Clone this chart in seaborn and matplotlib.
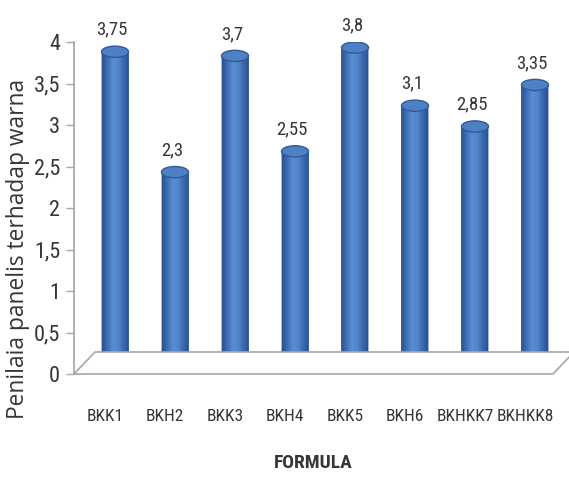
import numpy as np
import matplotlib
matplotlib.use("Agg")
import matplotlib.pyplot as plt
import matplotlib.transforms as mtransforms
from matplotlib import font_manager as fm
from matplotlib.colors import LinearSegmentedColormap
from matplotlib.patches import Ellipse, Polygon, PathPatch
from matplotlib.path import Path
from matplotlib.ticker import FuncFormatter, MultipleLocator
import seaborn as sns

# Panel scores for colour, per formula
formula = ["BKK1", "BKH2", "BKK3", "BKH4", "BKK5", "BKH6", "BKHKK7", "BKHKK8"]
scores = [3.75, 2.3, 3.7, 2.55, 3.8, 3.1, 2.85, 3.35]


def narrow_font():
    """Return font kwargs for a condensed face if one is installed."""
    for fam in ["Liberation Sans Narrow", "Roboto Condensed", "Open Sans Condensed",
                "Noto Sans Condensed", "DejaVu Sans Condensed"]:
        try:
            fm.findfont(fm.FontProperties(family=fam), fallback_to_default=False)
            return {"family": fam}, 1.0
        except ValueError:
            pass
    for fam in ["Noto Sans", "Open Sans", "DejaVu Sans"]:
        try:
            path = fm.findfont(fm.FontProperties(family=fam, stretch="condensed"),
                               fallback_to_default=False)
        except ValueError:
            continue
        if "ondensed" in path or "arrow" in path:
            return {"family": fam, "stretch": "condensed"}, 1.0
    return {"family": "Roboto"}, 0.82


NARROW, SCALE = narrow_font()

sns.set_theme(style="white")
plt.rcParams["font.family"] = [NARROW["family"], "DejaVu Sans"]
TEXT = "#363636"
GRID = "#a6a6a6"

fig = plt.figure(figsize=(5.69, 4.80), dpi=100)
W, H = 569, 480
ax = fig.add_axes([74 / W, 106 / H, (553 - 74) / W, (374 - 42) / H])

sns.barplot(x=formula, y=scores, color="#4a7bc0", width=0.45, ax=ax,
            saturation=1, zorder=3)

ax.set_xlim(-0.517, 7.467)
ax.set_ylim(0, 4)


# depth offsets for the pseudo-3D look (bars sit mid-floor, back edge behind)
def shift(px, py):
    return mtransforms.ScaledTranslation(px / 100, py / 100, fig.dpi_scale_trans)


bar_tr = ax.transData + shift(10, 11)
back_tr = ax.transData + shift(21, 22)

# floor
x0, x1 = ax.get_xlim()
front = [(x0, 0), (x1, 0)]
fl_front = ax.transData.transform(front)
fl_back = back_tr.transform(front)
floor_pts = np.vstack([fl_front, fl_back[::-1]])
floor = Polygon(floor_pts, closed=True, transform=None, facecolor="white",
                edgecolor=GRID, lw=1.2, zorder=1, clip_on=False)
fig.patches.append(floor)
floor.set_figure(fig)

cyl = LinearSegmentedColormap.from_list(
    "cyl", ["#2a5293", "#3f6fb3", "#5a8cd2", "#5386cc", "#3c6aae", "#2a5292"])
grad = np.linspace(0, 1, 64).reshape(1, -1)

ell_h = 0.135
for p, v in zip(ax.patches, scores):
    bx, bw, bh = p.get_x(), p.get_width(), p.get_height()
    cx = bx + bw / 2
    p.set_transform(bar_tr)
    p.set_edgecolor("none")
    # body outline: straight sides plus a rounded bottom
    t = np.linspace(np.pi, 2 * np.pi, 40)
    arc = np.column_stack([cx + bw / 2 * np.cos(t), ell_h / 2 * np.sin(t)])
    verts = np.vstack([[bx, bh], arc, [bx + bw, bh], [bx, bh]])
    body = PathPatch(Path(verts, closed=True), transform=bar_tr,
                     facecolor="#3f6fb3", edgecolor="none", zorder=3)
    ax.add_patch(body)
    im = ax.imshow(grad, extent=[bx, bx + bw, -ell_h, bh], aspect="auto",
                   cmap=cyl, transform=bar_tr, zorder=3.5, interpolation="bilinear")
    im.set_clip_path(body)
    top = Ellipse((cx, bh), bw, ell_h, transform=bar_tr, facecolor="#4f80c4",
                  edgecolor="#2f5a9c", lw=1.0, zorder=4)
    ax.add_patch(top)
    ax.annotate(f"{v:g}".replace(".", ","), xy=(cx, bh), xycoords=bar_tr,
                xytext=(-3, 13), textcoords="offset pixels", ha="center",
                va="bottom", fontsize=13.5 * SCALE, color=TEXT, **NARROW)

ax.set_xlim(x0, x1)
ax.set_ylim(0, 4)

for s in ["top", "right"]:
    ax.spines[s].set_visible(False)
ax.spines["left"].set_color(GRID)
ax.spines["bottom"].set_visible(False)
ax.yaxis.set_major_locator(MultipleLocator(0.5))
ax.yaxis.set_major_formatter(FuncFormatter(lambda v, _: f"{v:g}".replace(".", ",")))
ax.tick_params(axis="y", direction="out", length=6, width=1, color=GRID,
               labelcolor=TEXT, pad=4, left=True)
ax.tick_params(axis="x", length=0, labelcolor=TEXT, pad=25)
for lbl in ax.get_yticklabels():
    lbl.set_fontsize(16 * SCALE)
    lbl.update(NARROW)
for lbl in ax.get_xticklabels():
    lbl.set_fontsize(12.5 * SCALE)
    lbl.update(NARROW)

ax.set_xlabel("FORMULA", fontsize=14 * SCALE, fontweight="bold", color=TEXT,
              labelpad=22, **NARROW)

# axis title runs from about y=80 to y=418 px; size it to that span
ylab = ax.set_ylabel("Penilaia panelis terhadap warna", fontsize=13, color=TEXT,
                     family=["Open Sans", "DejaVu Sans"])
ylab.set_verticalalignment("center")
fig.canvas.draw()
span = ylab.get_window_extent().height
ylab.set_fontsize(13 * 338 / span)
ax.yaxis.set_label_coords((18 - 74) / (553 - 74), (374 - 249) / (374 - 42))

fig.savefig("out.png", dpi=100)
